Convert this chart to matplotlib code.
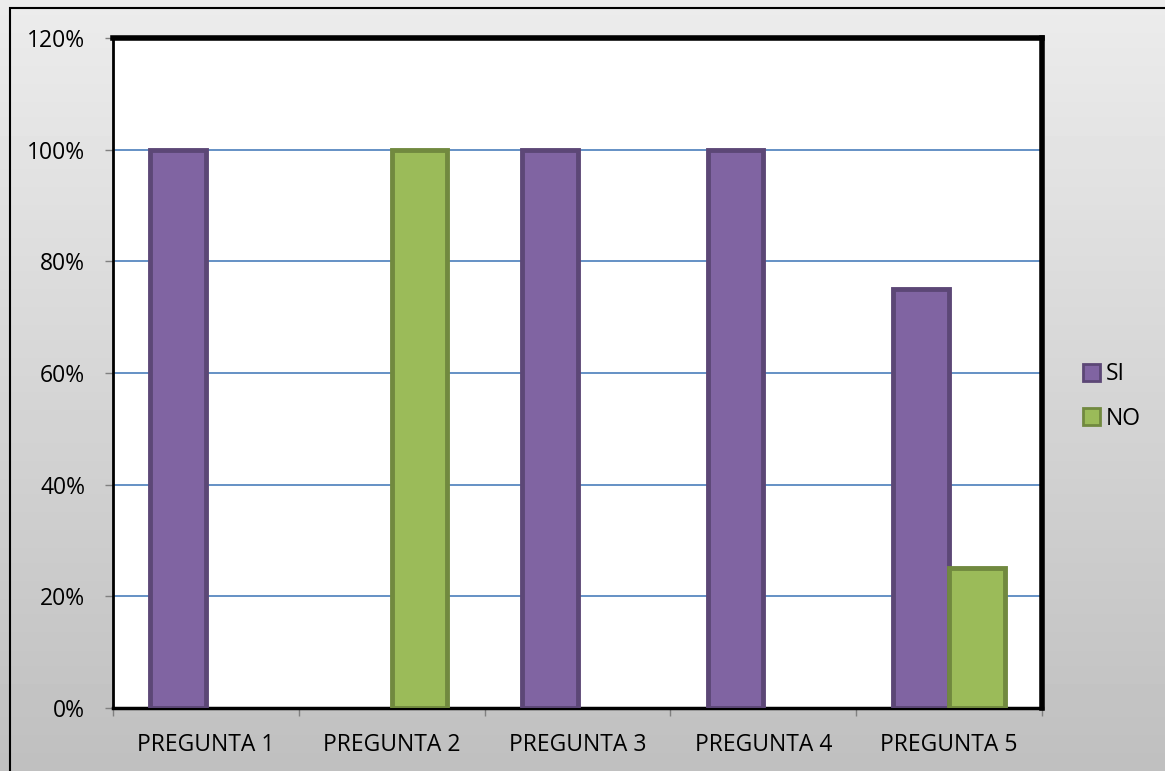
import numpy as np
import matplotlib.pyplot as plt
from matplotlib.patches import Rectangle

preguntas = ['PREGUNTA 1', 'PREGUNTA 2', 'PREGUNTA 3', 'PREGUNTA 4', 'PREGUNTA 5']
si = [100, 0, 100, 100, 75]
no = [0, 100, 0, 0, 25]
yticks = [0, 20, 40, 60, 80, 100, 120]

plt.rcParams['font.family'] = ['Open Sans', 'DejaVu Sans']

W, H = 1165, 771
fig = plt.figure(figsize=(W / 100, H / 100), dpi=100)

# fondo con degradado gris
bg = fig.add_axes([0, 0, 1, 1], zorder=-10)
grad = np.linspace(0.925, 0.75, 256).reshape(-1, 1)
bg.imshow(grad, cmap='gray', vmin=0, vmax=1, aspect='auto', extent=[0, 1, 0, 1])
bg.add_patch(Rectangle((10 / W, -0.1), 1.2, 1 - 8 / H + 0.1, fill=False, ec='black', lw=1.5,
                       transform=bg.transAxes))
bg.set_xlim(0, 1)
bg.set_ylim(0, 1)
bg.axis('off')

x0, x1, y0, y1 = 113, 1042, 38, 708
ax = fig.add_axes([x0 / W, 1 - y1 / H, (x1 - x0) / W, (y1 - y0) / H])
ax.set_facecolor('white')

x = np.arange(len(preguntas))
w = 0.3
# las barras con valor 0 no se dibujan
si_plot = np.where(np.array(si) > 0, si, np.nan)
no_plot = np.where(np.array(no) > 0, no, np.nan)
ax.bar(x - 0.15, si_plot, w, color='#8064A2', edgecolor='#5C4776', linewidth=3.5, label='SI', zorder=3)
ax.bar(x + 0.15, no_plot, w, color='#9BBB59', edgecolor='#71893F', linewidth=3.5, label='NO', zorder=3)

ax.set_xlim(-0.5, len(preguntas) - 0.5)
ax.set_ylim(0, 120)
ax.set_yticks(yticks)
ax.set_yticklabels([f'{v}%' for v in yticks], fontsize=16.5)
ax.set_xticks(x)
ax.set_xticklabels(preguntas, fontsize=16.5)
ax.tick_params(axis='x', length=0, pad=18)
ax.set_xticks(np.arange(-0.5, len(preguntas)), minor=True)
ax.tick_params(axis='x', which='minor', length=6, color='#808080', width=1)
ax.tick_params(axis='y', length=6, color='#808080', width=1, pad=14)
for v in yticks[1:-1]:
    ax.axhline(v, color='#4A7EBB', lw=1.2, zorder=1)

ax.spines['top'].set_linewidth(4)
ax.spines['right'].set_linewidth(4)
ax.spines['left'].set_linewidth(2)
ax.spines['bottom'].set_linewidth(2.5)
for s in ax.spines.values():
    s.set_color('black')

leg = ax.legend(loc='center left', bbox_to_anchor=(1.022, 0.465), frameon=False, fontsize=16.5,
                handlelength=0.75, handleheight=0.75, handletextpad=0.25, labelspacing=0.9)
for h in leg.legend_handles:
    h.set_linewidth(2)

fig.savefig('out.png', dpi=100)
